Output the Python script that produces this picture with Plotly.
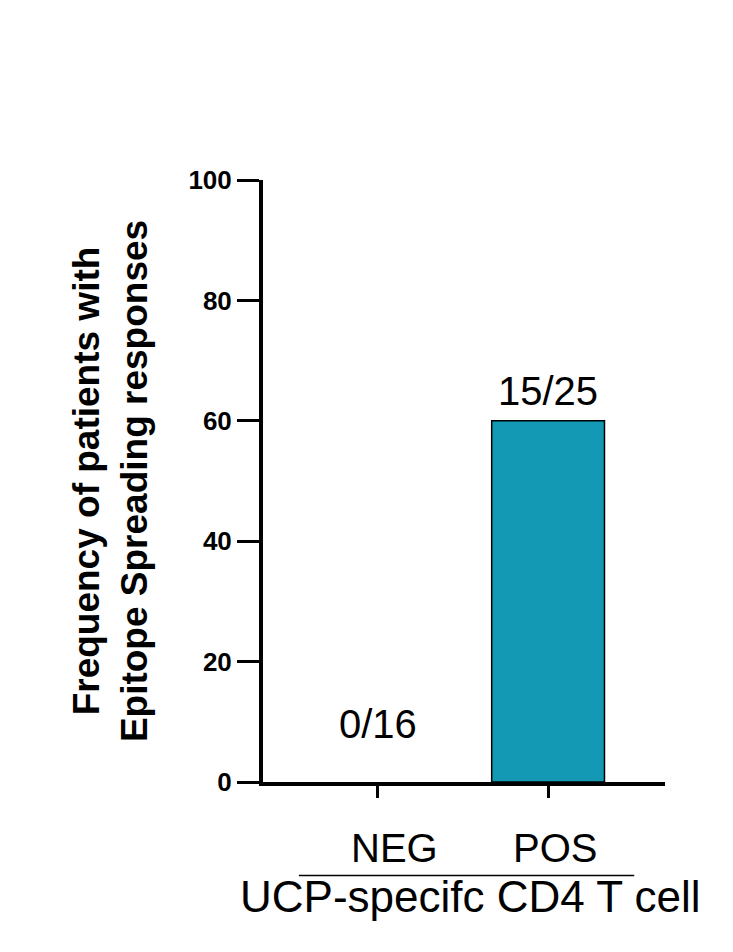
import plotly.graph_objects as go

categories = ["NEG", "POS"]
frequency = [0, 60]
counts = ["0/16", "15/25"]
y_ticks = [0, 20, 40, 60, 80, 100]
x_title = "UCP-specifc CD4 T cell"
y_title = "Frequency of patients with<br>Epitope Spreading responses"

# x axis in pixel-like units so positions line up with the reference
xpos = [112, 278]
FONT = "Liberation Sans, Arial"

fig = go.Figure()
fig.add_trace(go.Bar(
    x=xpos, y=frequency, width=110,
    marker=dict(color="#1499b5", line=dict(color="black", width=[0, 1.5])),
    showlegend=False,
))

for xp, c, yv in zip(xpos, counts, frequency):
    fig.add_annotation(x=xp, y=yv, xref="x", yref="y", yshift=30 if yv else 58,
                       text=c, showarrow=False,
                       font=dict(family=FONT, size=40, color="black"))

for xp, cat in zip([128, 285], categories):
    fig.add_annotation(x=xp, y=0, xref="x", yref="y", yshift=-66, text=cat,
                       showarrow=False,
                       font=dict(family=FONT, size=40, color="black"))

fig.add_shape(type="line", xref="paper", yref="paper", x0=35/392, x1=362/392,
              y0=-91/586, y1=-91/586, line=dict(color="black", width=1.5))
fig.add_annotation(xref="paper", yref="paper", x=202/392, y=-137/586, text=x_title,
                   showarrow=False,
                   font=dict(family=FONT, size=44, color="black"))

fig.update_layout(
    width=733, height=952,
    margin=dict(l=255, r=76, t=172, b=178),
    plot_bgcolor="white", paper_bgcolor="white",
    xaxis=dict(range=[0, 392], tickvals=xpos, ticktext=["", ""], ticks="outside",
               ticklen=12, tickwidth=3, tickcolor="black", showline=True,
               linecolor="black", linewidth=4, showgrid=False, zeroline=False),
    yaxis=dict(range=[0, 100], tickvals=y_ticks,
               ticktext=["<b>%d</b>" % t for t in y_ticks], ticks="outside", ticklen=22,
               tickwidth=3, tickcolor="black", showline=True, linecolor="black",
               linewidth=4, showgrid=False, zeroline=False,
               tickfont=dict(family=FONT, size=26, color="black"),
               title=dict(text="<b>" + y_title + "</b>", standoff=30,
                          font=dict(family=FONT, size=37, color="black"))),
)

fig.write_html("out.html")
